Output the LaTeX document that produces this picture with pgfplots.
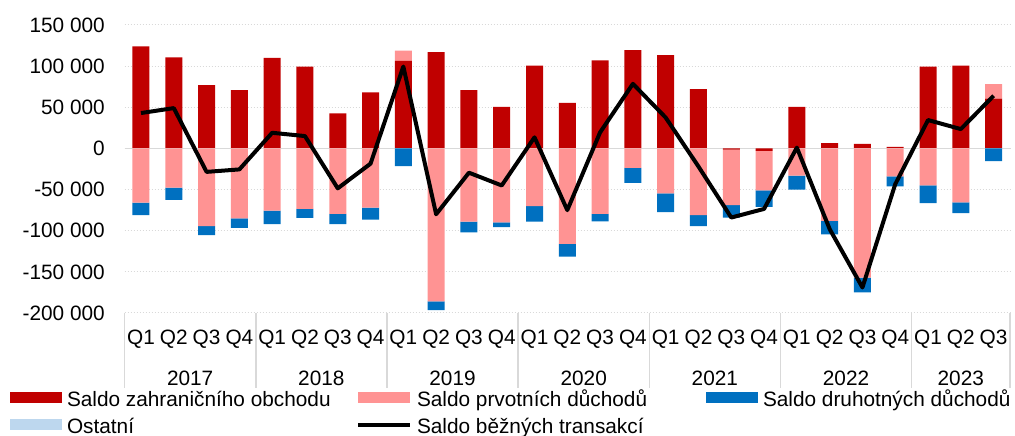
\documentclass[border=0pt]{standalone}
\usepackage{fontspec}
\setmainfont{Liberation Sans}
\usepackage{pgfplots}
\pgfplotsset{compat=1.18}
\usepackage{pgfplotstable}
\definecolor{cred}{HTML}{C00000}
\definecolor{cpink}{HTML}{FF9393}
\definecolor{cblue}{HTML}{0070C0}
\definecolor{clb}{HTML}{BDD7EE}
\definecolor{cgrid}{HTML}{D9D9D9}
\newcommand\ff{\fontsize{20.8bp}{24bp}\selectfont}

\pgfplotstableread{
x redp pinkp redn pinkn bluen oth line
0 124000 0 0 -66000 -15000 0 43000
1 110500 0 0 -47500 -15000 0 49000
2 77000 0 0 -94500 -11000 0 -28500
3 71000 0 0 -85000 -11500 0 -25500
4 110000 0 0 -75500 -16500 0 19000
5 99500 0 0 -73500 -11000 0 15000
6 42500 0 0 -79500 -12500 0 -48500
7 68000 0 0 -72000 -14500 0 -18500
8 106500 12500 0 0 -21500 0 99500
9 117000 0 0 -186000 -10500 0 -80000
10 71000 0 0 -89000 -13000 0 -29500
11 50500 0 0 -90000 -5500 0 -45000
12 100500 0 0 -70000 -19000 0 13500
13 55500 0 0 -116000 -15500 0 -75000
14 107000 0 0 -79500 -9000 0 19500
15 119500 0 0 -23500 -18500 0 78500
16 113500 0 0 -54500 -23000 0 37500
17 72000 0 0 -81000 -13500 0 -22000
18 0 0 -1500 -67500 -15000 0 -84000
19 0 0 -3000 -48000 -20000 0 -73500
20 50500 0 0 -33000 -17000 0 1000
21 6500 0 0 -88000 -16500 0 -98000
22 5500 0 0 -157000 -18000 0 -169000
23 2000 0 0 -34000 -12000 0 -43500
24 99500 0 0 -45000 -21500 0 34500
25 100500 0 0 -65500 -13000 0 23500
26 60500 17500 0 0 -15500 0 64000
}\data

\pgfplotsset{
  base/.style={
    at={(124.6bp,123bp)}, anchor=south west, scale only axis,
    width=885.4bp, height=288bp,
    xmin=-0.5, xmax=26.5, ymin=-200000, ymax=150000,
    axis line style={draw=none}, clip=false,
  },
  barleg/.style={legend image code/.code={\fill[##1] (0bp,-2.5bp) rectangle (52bp,8.1bp);}},
  linleg/.style={legend image code/.code={\draw[##1] (0bp,2.8bp) -- (52bp,2.8bp);}},
}

\begin{document}
\begin{tikzpicture}
\path[use as bounding box] (0,0) rectangle (1015bp,436bp);
% axis 1: grid, ticks, positive stack
\begin{axis}[base, ybar stacked, bar width=17bp,
  scaled y ticks=false,
  ytick={-200000,-150000,-100000,-50000,0,50000,100000,150000},
  yticklabels={-200 000,-150 000,-100 000,-50 000,0,50 000,100 000,150 000},
  xtick={0,1,2,3,4,5,6,7,8,9,10,11,12,13,14,15,16,17,18,19,20,21,22,23,24,25,26},
  xticklabels={Q1,Q2,Q3,Q4,Q1,Q2,Q3,Q4,Q1,Q2,Q3,Q4,Q1,Q2,Q3,Q4,Q1,Q2,Q3,Q4,Q1,Q2,Q3,Q4,Q1,Q2,Q3},
  tick style={draw=none},
  ymajorgrids, grid style={cgrid, line width=1bp, dash pattern=on 1.5bp off 1.5bp},
  yticklabel style={font=\ff, anchor=east, inner sep=0pt, xshift=-19.6bp},
  xticklabel style={font=\ff, anchor=base, inner sep=0pt, yshift=-32bp},
]
\addplot[fill=cred, draw=none] table[x=x, y=redp]{\data};
\addplot[fill=cpink, draw=none] table[x=x, y=pinkp]{\data};
\draw[cgrid, line width=1.5bp] (axis cs:-0.5,-200000) -- ++(0bp,-75bp);
\draw[cgrid, line width=1.5bp] (axis cs:3.5,-200000) -- ++(0bp,-75bp);
\draw[cgrid, line width=1.5bp] (axis cs:7.5,-200000) -- ++(0bp,-75bp);
\draw[cgrid, line width=1.5bp] (axis cs:11.5,-200000) -- ++(0bp,-75bp);
\draw[cgrid, line width=1.5bp] (axis cs:15.5,-200000) -- ++(0bp,-75bp);
\draw[cgrid, line width=1.5bp] (axis cs:19.5,-200000) -- ++(0bp,-75bp);
\draw[cgrid, line width=1.5bp] (axis cs:23.5,-200000) -- ++(0bp,-75bp);
\draw[cgrid, line width=1.5bp] (axis cs:26.5,-200000) -- ++(0bp,-75bp);
\node[font=\ff, anchor=base, inner sep=0pt, yshift=-72bp] at (axis cs:1.5,-200000) {2017};
\node[font=\ff, anchor=base, inner sep=0pt, yshift=-72bp] at (axis cs:5.5,-200000) {2018};
\node[font=\ff, anchor=base, inner sep=0pt, yshift=-72bp] at (axis cs:9.5,-200000) {2019};
\node[font=\ff, anchor=base, inner sep=0pt, yshift=-72bp] at (axis cs:13.5,-200000) {2020};
\node[font=\ff, anchor=base, inner sep=0pt, yshift=-72bp] at (axis cs:17.5,-200000) {2021};
\node[font=\ff, anchor=base, inner sep=0pt, yshift=-72bp] at (axis cs:21.5,-200000) {2022};
\node[font=\ff, anchor=base, inner sep=0pt, yshift=-72bp] at (axis cs:25,-200000) {2023};
\end{axis}
% axis 2: negative stack + legend
\begin{axis}[base, ybar stacked, bar width=17bp,
  xtick=\empty, ytick=\empty,
  legend style={at={(-0.12943,-0.27083)}, anchor=north west, draw=none, fill=none,
    inner sep=0pt, outer sep=0pt, legend columns=3, font=\ff,
    /tikz/every odd column/.append style={column sep=5bp}, row sep=8bp,
    nodes={inner sep=0pt, text height=15bp, text depth=4bp}},
  legend cell align=left,
]
\addplot[fill=cred, draw=none, barleg] table[x=x, y=redn]{\data};
\addlegendentry{\makebox[289bp][l]{Saldo zahraničního obchodu}}
\addplot[fill=cpink, draw=none, barleg] table[x=x, y=pinkn]{\data};
\addlegendentry{\makebox[289bp][l]{Saldo prvotních důchodů}}
\addplot[fill=cblue, draw=none, barleg] table[x=x, y=bluen]{\data};
\addlegendentry{\makebox[289bp][l]{Saldo druhotných důchodů}}
\addplot[fill=clb, draw=none, barleg] table[x=x, y=oth]{\data};
\addlegendentry{\makebox[289bp][l]{Ostatní}}
\addlegendimage{black, line width=4bp, linleg}
\addlegendentry{\makebox[289bp][l]{Saldo běžných transakcí}}
\draw[cgrid, line width=1.5bp] (axis cs:-0.5,0) -- (axis cs:26.5,0);
\end{axis}
% axis 3: line
\begin{axis}[base, hide axis]
\addplot[black, line width=4bp, line join=round, mark=none] table[x=x, y=line]{\data};
\end{axis}
\end{tikzpicture}
\end{document}
